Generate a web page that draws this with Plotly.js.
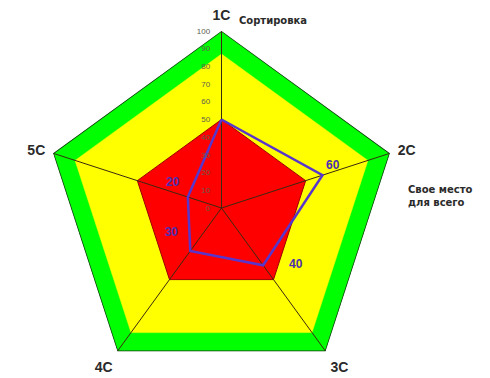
<!DOCTYPE html>
<html>
<head>
<meta charset="utf-8">
<script src="https://cdn.plot.ly/plotly-3.0.1.min.js"></script>
<style>
  html, body { margin: 0; padding: 0; width: 490px; height: 378px; overflow: hidden; background: #fff; }
  #wrap { width: 490px; height: 378px; overflow: hidden; }
</style>
</head>
<body>
<div id="wrap"><div id="chart"></div></div>
<script>
// Five spokes of the chart
const categories = ['1C', '2C', '3C', '4C', '5C'];
// Score achieved on each spoke
const scores = [50, 60, 40, 30, 20];
// Zone boundaries: outer limit, good zone, weak zone
const outerLimit = 100;
const goodLimit = 87;
const weakLimit = 50;
// Radial scale
const radialTicks = [0, 10, 20, 30, 40, 50, 60, 70, 80, 90, 100];

// closed ring of categories for filled polygons
const ring = categories.concat([categories[0]]);
const constant = v => ring.map(() => v);

// spokes from the centre to each corner
const spokeR = [], spokeT = [];
categories.forEach(c => { spokeR.push(0, outerLimit, null); spokeT.push(c, c, c); });

const traces = [
  { type: 'scatterpolar', r: constant(outerLimit), theta: ring, mode: 'lines', fill: 'toself',
    fillcolor: '#00ff00', line: { color: '#1a3a1a', width: 1.5 }, hoverinfo: 'skip' },
  { type: 'scatterpolar', r: constant(goodLimit), theta: ring, mode: 'lines', fill: 'toself',
    fillcolor: '#ffff00', line: { color: '#ffff00', width: 0.5 }, hoverinfo: 'skip' },
  { type: 'scatterpolar', r: constant(weakLimit), theta: ring, mode: 'lines', fill: 'toself',
    fillcolor: '#ff0000', line: { color: '#9a0000', width: 1 }, hoverinfo: 'skip' },
  { type: 'scatterpolar', r: spokeR, theta: spokeT, mode: 'lines', connectgaps: false,
    line: { color: '#3a2a10', width: 1 }, hoverinfo: 'skip' },
  { type: 'scatterpolar', r: scores.concat([scores[0]]), theta: ring,
    mode: 'lines+markers+text',
    text: scores.map((v, i) => i === 0 ? '' : String(v)).concat(['']),
    textposition: ['top right', 'top right', 'middle right', 'top left', 'top left', 'top right'],
    textfont: { family: 'Liberation Sans, Arial, sans-serif', size: 12, color: '#4b2fb0', weight: 'bold' },
    marker: { size: [0, 4, 40, 18, 12, 0], color: 'rgba(0,0,0,0)', line: { width: 0 } },
    line: { color: '#5836cc', width: 2.5 } }
];

const H = 400;
const layout = {
  width: 490, height: H,
  margin: { l: 0, r: 0, t: 0, b: 0 },
  paper_bgcolor: '#ffffff',
  showlegend: false,
  polar: {
    domain: { x: [44.5 / 490, 398.5 / 490], y: [(H - 385) / H, (H - 31) / H] },
    bgcolor: 'rgba(0,0,0,0)',
    gridshape: 'linear',
    radialaxis: {
      range: [0, 100], tickvals: radialTicks, ticktext: radialTicks.map(String),
      angle: 90, tickangle: 90, side: 'counterclockwise', showgrid: false, showline: false,
      ticks: 'outside', ticklen: 8, tickcolor: 'rgba(0,0,0,0)',
      tickfont: { family: 'Liberation Sans, Arial, sans-serif', size: 8, color: '#5e5e50' }
    },
    angularaxis: {
      type: 'category', direction: 'clockwise', rotation: 90,
      showgrid: false, showline: false, ticks: 'outside', ticklen: 5, tickcolor: 'rgba(0,0,0,0)',
      tickfont: { family: 'Liberation Sans, Arial, sans-serif', size: 14, color: '#2a2a2a', weight: 'bold' }
    }
  },
  annotations: [
    { text: 'Сортировка', xref: 'paper', yref: 'paper', x: 237 / 490, y: 1 - 21 / H,
      xanchor: 'left', yanchor: 'middle', showarrow: false,
      font: { family: 'DejaVu Sans, sans-serif', size: 10, color: '#2a2a2a', weight: 'bold' } },
    { text: 'Свое место<br>для всего', xref: 'paper', yref: 'paper', x: 406 / 490, y: 1 - 196 / H,
      xanchor: 'left', yanchor: 'middle', align: 'left', showarrow: false,
      font: { family: 'DejaVu Sans, sans-serif', size: 10, color: '#2a2a2a', weight: 'bold' } }
  ]
};

Plotly.newPlot('chart', traces, layout, { displayModeBar: false, staticPlot: true });
</script>
</body>
</html>
